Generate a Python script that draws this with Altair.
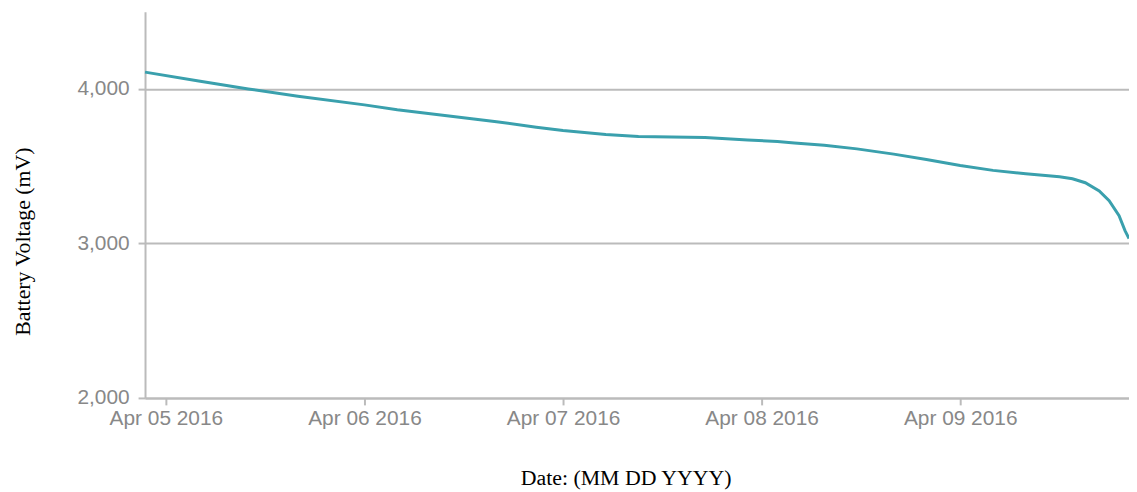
import altair as alt
import pandas as pd

# Readings
times = [
    "2016-04-04T21:29", "2016-04-05T03:58", "2016-04-05T09:58", "2016-04-05T15:58",
    "2016-04-06T00:00", "2016-04-06T03:58", "2016-04-06T09:58", "2016-04-06T15:58",
    "2016-04-06T20:46", "2016-04-07T00:00", "2016-04-07T05:10", "2016-04-07T09:07",
    "2016-04-07T17:10", "2016-04-07T22:19", "2016-04-08T01:55", "2016-04-08T03:58",
    "2016-04-08T07:34", "2016-04-08T11:31", "2016-04-08T15:58", "2016-04-08T19:55",
    "2016-04-09T00:00", "2016-04-09T03:58", "2016-04-09T07:55", "2016-04-09T12:00",
    "2016-04-09T13:34", "2016-04-09T15:07", "2016-04-09T16:48", "2016-04-09T18:00",
    "2016-04-09T19:12", "2016-04-09T19:55", "2016-04-09T20:24",
]
voltages = [
    4109, 4052, 4000, 3953,
    3897, 3865, 3827, 3788,
    3752, 3731, 3705, 3692,
    3686, 3669, 3660, 3650,
    3635, 3612, 3578, 3543,
    3505, 3473, 3451, 3432,
    3419, 3393, 3340, 3276,
    3179, 3083, 3032,
]

df = pd.DataFrame({"time": times, "voltage": voltages})

x_domain = [
    alt.DateTime(year=2016, month=4, date=4, hours=21, minutes=29),
    alt.DateTime(year=2016, month=4, date=9, hours=20, minutes=24),
]

chart = (
    alt.Chart(df)
    .mark_line(color="#3aa0ad", strokeWidth=3)
    .encode(
        x=alt.X(
            "time:T",
            scale=alt.Scale(domain=x_domain, nice=False),
            axis=alt.Axis(
                title="Date: (MM DD YYYY)",
                format="%b %d %Y",
                tickCount={"interval": "day", "step": 1},
                grid=False,
                titleX=484,
                titleY=80,
                titleAlign="center",
                titleBaseline="middle",
                labelPadding=3,
            ),
        ),
        y=alt.Y(
            "voltage:Q",
            scale=alt.Scale(domain=[2000, 4500], nice=False, zero=False),
            axis=alt.Axis(
                title="Battery Voltage (mV)",
                values=[2000, 3000, 4000],
                format=",d",
                grid=True,
                titleX=-123,
                titleY=231,
                titleAngle=-90,
                titleAlign="center",
                titleBaseline="middle",
                labelPadding=9,
            ),
        ),
    )
    .properties(
        width=991,
        height=389,
        autosize=alt.AutoSizeParams(type="none"),
        padding={"left": 138, "top": 2, "right": 0, "bottom": 92},
    )
    .configure_view(stroke=None)
    .configure_axis(
        domainColor="#bbbbbb",
        domainWidth=2,
        tickColor="#bbbbbb",
        tickWidth=2,
        tickSize=7,
        gridColor="#bbbbbb",
        gridWidth=2,
        labelFont="Liberation Sans",
        labelFontSize=21,
        labelColor="#888888",
        titleFont="Liberation Serif",
        titleFontSize=22,
        titleFontWeight="normal",
        titleColor="#000000",
    )
)

chart.save("out.html", embed_options={"renderer": "svg", "actions": False})
